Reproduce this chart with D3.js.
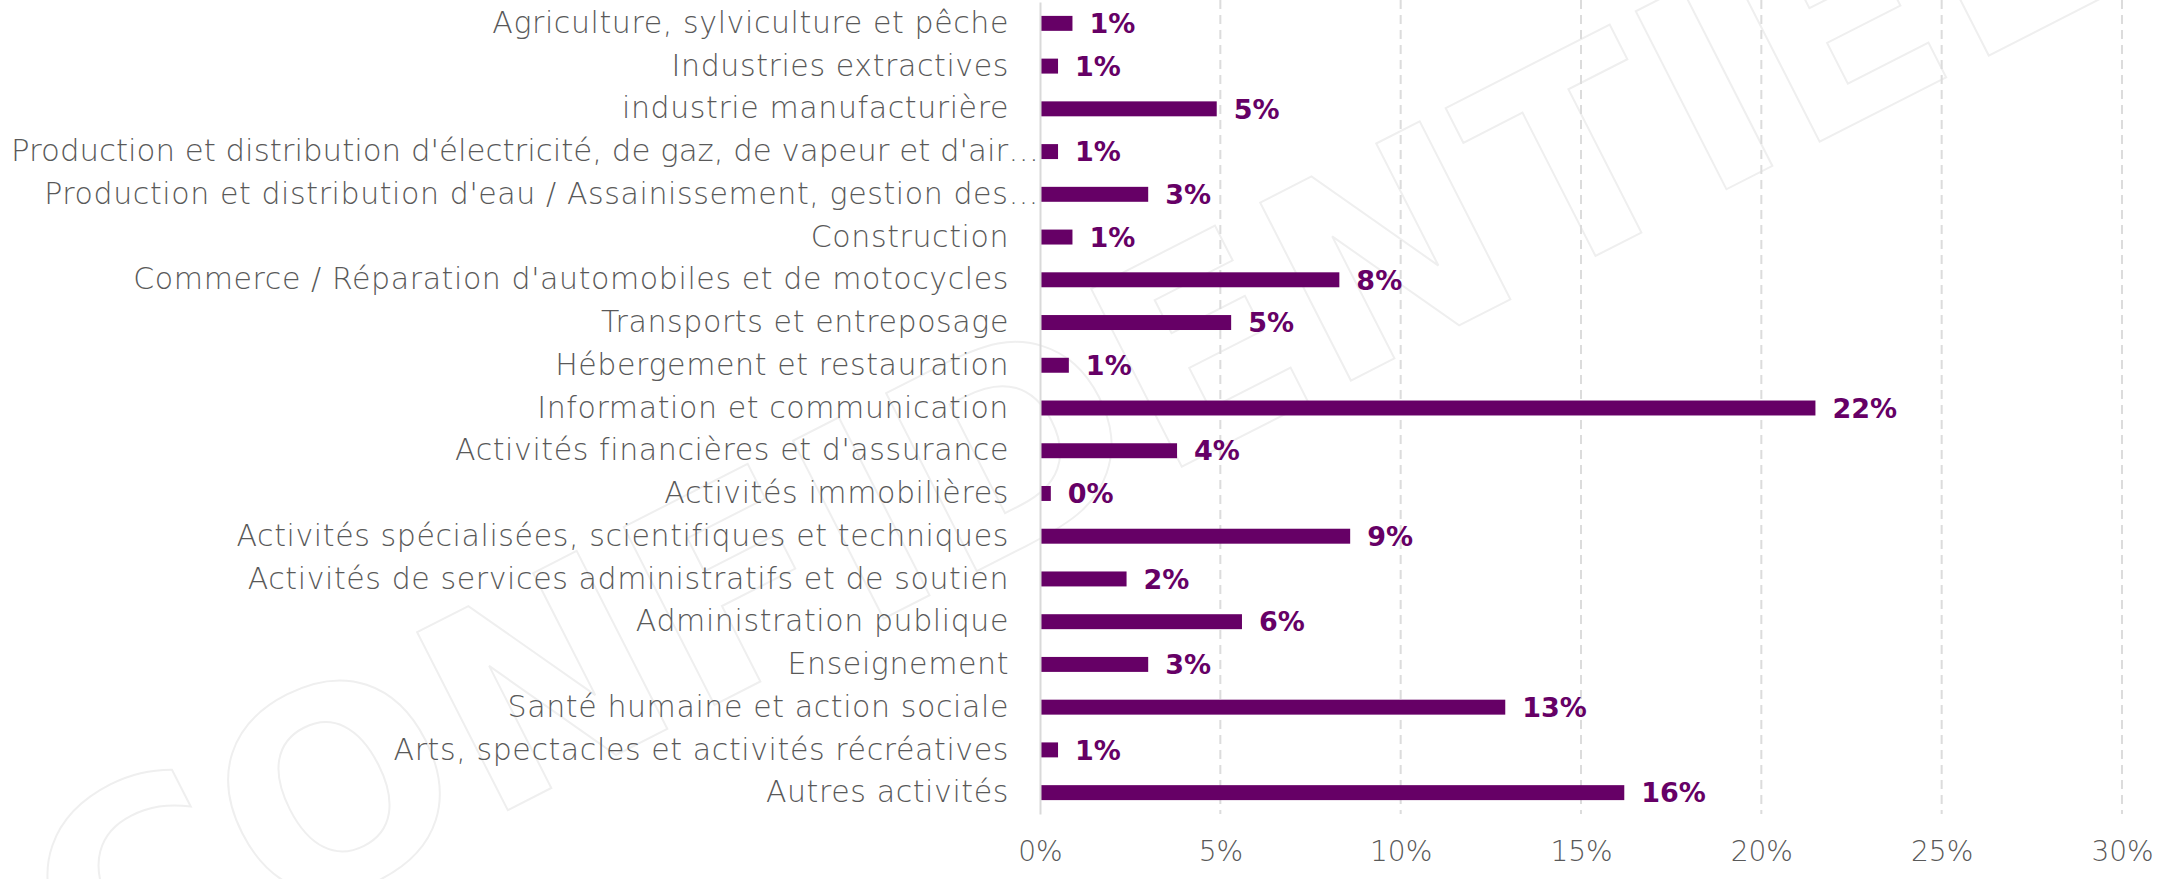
<!DOCTYPE html>
<meta charset="utf-8">
<style>
  body { margin: 0; background: #fff; }
</style>

<!-- Load d3.js -->
<script src="https://d3js.org/d3.v7.min.js"></script>

<!-- Create a div where the graph will take place -->
<div id="my_dataviz"></div>

<script>
// categories, top to bottom
var sectors = [
  "Agriculture, sylviculture et pêche",
  "Industries extractives",
  "industrie manufacturière",
  "Production et distribution d'électricité, de gaz, de vapeur et d'air…",
  "Production et distribution d'eau / Assainissement, gestion des…",
  "Construction",
  "Commerce / Réparation d'automobiles et de motocycles",
  "Transports et entreposage",
  "Hébergement et restauration",
  "Information et communication",
  "Activités financières et d'assurance",
  "Activités immobilières",
  "Activités spécialisées, scientifiques et techniques",
  "Activités de services administratifs et de soutien",
  "Administration publique",
  "Enseignement",
  "Santé humaine et action sociale",
  "Arts, spectacles et activités récréatives",
  "Autres activités"
];

// share of each sector, in %
var shares = [0.9, 0.5, 4.9, 0.5, 3.0, 0.9, 8.3, 5.3, 0.8, 21.5, 3.8, 0.3, 8.6, 2.4, 5.6, 3.0, 12.9, 0.5, 16.2];

// x axis ticks
var xTicks = [0, 5, 10, 15, 20, 25, 30];

var watermark = "CONFIDENTIEL";

// set the dimensions and margins of the graph
var margin = {top: 2, right: 54, bottom: 65, left: 1040},
    width = 2176 - margin.left - margin.right,
    height = 879 - margin.top - margin.bottom;

var svgRoot = d3.select("#my_dataviz")
  .append("svg")
    .attr("width", 2176)
    .attr("height", 879)
    .style("display", "block");

// light outlined watermark behind everything
svgRoot.append("text")
    .attr("transform", "translate(94,1021) rotate(-27)")
    .attr("x", 0)
    .attr("y", 0)
    .attr("textLength", 2276)
    .attr("lengthAdjust", "spacing")
    .style("font-family", "'DejaVu Sans', sans-serif")
    .style("font-weight", "bold")
    .style("font-size", "274px")
    .style("fill", "none")
    .style("stroke", "#efefef")
    .style("stroke-width", 2)
    .text(watermark);

var svg = svgRoot.append("g")
    .attr("transform", "translate(" + margin.left + "," + margin.top + ")");

var x = d3.scaleLinear()
  .domain([0, 30])
  .range([0, width]);

var y = d3.scaleBand()
  .domain(sectors)
  .range([0, height])
  .paddingInner(0.65)
  .paddingOuter(0.325);

// dashed vertical gridlines
svg.append("g")
  .selectAll("line")
  .data(xTicks.filter(function(d){ return d > 0; }))
  .enter()
  .append("line")
    .attr("x1", function(d){ return x(d); })
    .attr("x2", function(d){ return x(d); })
    .attr("y1", -margin.top)
    .attr("y2", height)
    .attr("stroke", "#dcdcdc")
    .attr("stroke-width", 2)
    .attr("stroke-dasharray", "9,6");

// X axis labels
var xAxis = svg.append("g")
  .attr("transform", "translate(0," + height + ")")
  .call(d3.axisBottom(x).tickValues(xTicks).tickSize(0).tickPadding(27).tickFormat(function(d){ return d + "%"; }));
xAxis.select(".domain").remove();
xAxis.selectAll("text")
  .style("font-family", "'DejaVu Sans', sans-serif")
  .style("font-weight", 300)
  .style("font-size", "28px")
  .style("fill", "#595959");

// bars
svg.selectAll("bars")
  .data(shares)
  .enter()
  .append("rect")
    .attr("x", x(0))
    .attr("y", function(d, i){ return y(sectors[i]); })
    .attr("width", function(d){ return x(d) - x(0); })
    .attr("height", y.bandwidth())
    .attr("fill", "#660066");

// value labels
svg.selectAll("vals")
  .data(shares)
  .enter()
  .append("text")
    .attr("x", function(d){ return x(d) + 17; })
    .attr("y", function(d, i){ return y(sectors[i]) + y.bandwidth() / 2; })
    .attr("dy", "0.36em")
    .style("font-family", "'DejaVu Sans', sans-serif")
    .style("font-weight", "bold")
    .style("font-size", "27px")
    .style("fill", "#660066")
    .text(function(d){ return Math.round(d) + "%"; });

// Y axis (category names)
var yAxis = svg.append("g")
  .call(d3.axisLeft(y).tickSize(0).tickPadding(31));
yAxis.select(".domain")
  .attr("stroke", "#d9d9d9")
  .attr("stroke-width", 2);
yAxis.selectAll("text")
  .style("font-family", "'DejaVu Sans', sans-serif")
  .style("font-weight", 300)
  .style("font-size", "30px")
  .style("letter-spacing", "0.6px")
  .style("fill", "#595959")
  .attr("x", function(d){ return d.slice(-1) === "…" ? -1 : -31; })
  .each(function(d){
    // squeeze the long, already truncated labels so they stay on the page
    var room = margin.left - 12;
    if (this.getComputedTextLength() > room) {
      d3.select(this)
        .style("letter-spacing", "0px")
        .attr("textLength", d.indexOf("électricité") > 0 ? room : room - 58)
        .attr("lengthAdjust", "spacingAndGlyphs");
    }
  });
</script>
